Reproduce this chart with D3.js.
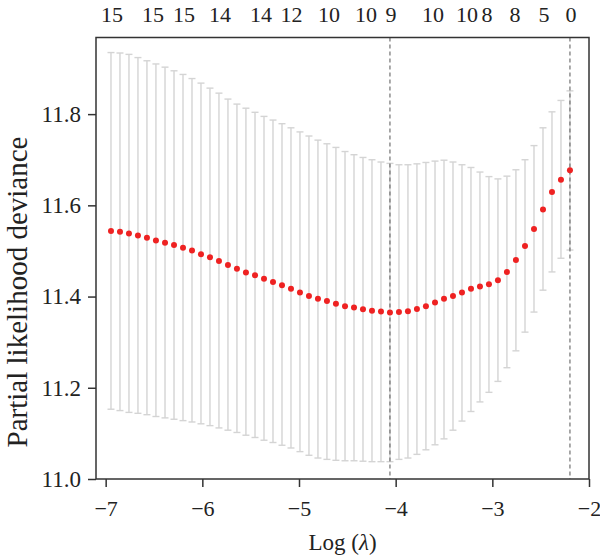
<!DOCTYPE html>
<html lang="en">
<head>
    <meta charset="UTF-8">
    <script src="https://d3js.org/d3.v7.min.js"></script>
    <title>CV partial likelihood deviance</title>
    <style>
        body { margin: 0; background: #fff; }
        text { font-family: "Liberation Serif", "Times New Roman", serif; fill: #222; }
    </style>
</head>
<body>
    <div id="chart"></div>
    <script>
// log(lambda) for each fitted lambda
const logLambda = [-6.945, -6.852, -6.759, -6.666, -6.573, -6.480, -6.386, -6.293, -6.200, -6.107,
    -6.014, -5.921, -5.828, -5.735, -5.642, -5.549, -5.455, -5.362, -5.269, -5.176,
    -5.083, -4.990, -4.897, -4.804, -4.711, -4.618, -4.524, -4.431, -4.338, -4.245,
    -4.152, -4.059, -3.966, -3.873, -3.780, -3.687, -3.593, -3.500, -3.407, -3.314,
    -3.221, -3.128, -3.035, -2.942, -2.849, -2.756, -2.662, -2.569, -2.476, -2.383,
    -2.290, -2.197];

// mean cross-validated deviance
const cvm = [11.544, 11.542, 11.538, 11.534, 11.529, 11.523, 11.518, 11.513, 11.507, 11.501,
    11.493, 11.486, 11.478, 11.469, 11.461, 11.453, 11.447, 11.439, 11.432, 11.425,
    11.417, 11.409, 11.401, 11.395, 11.390, 11.384, 11.379, 11.376, 11.372, 11.369,
    11.367, 11.365, 11.366, 11.368, 11.373, 11.379, 11.387, 11.395, 11.401, 11.409,
    11.417, 11.422, 11.427, 11.436, 11.454, 11.480, 11.511, 11.548, 11.591, 11.629,
    11.656, 11.677];

// upper and lower error bar ends
const cvup = [11.935, 11.934, 11.931, 11.924, 11.917, 11.910, 11.903, 11.895, 11.887, 11.878,
    11.868, 11.857, 11.846, 11.833, 11.822, 11.813, 11.804, 11.795, 11.787, 11.779,
    11.770, 11.761, 11.752, 11.743, 11.735, 11.727, 11.718, 11.711, 11.705, 11.700,
    11.695, 11.692, 11.689, 11.689, 11.691, 11.694, 11.697, 11.699, 11.695, 11.689,
    11.683, 11.673, 11.663, 11.658, 11.664, 11.678, 11.700, 11.731, 11.770, 11.805,
    11.830, 11.851];

const cvlo = [11.153, 11.150, 11.146, 11.144, 11.141, 11.137, 11.134, 11.131, 11.128, 11.125,
    11.121, 11.117, 11.112, 11.107, 11.102, 11.096, 11.091, 11.085, 11.080, 11.074,
    11.068, 11.060, 11.052, 11.046, 11.043, 11.041, 11.040, 11.040, 11.039, 11.038,
    11.038, 11.038, 11.043, 11.046, 11.054, 11.064, 11.075, 11.088, 11.107, 11.127,
    11.148, 11.169, 11.190, 11.214, 11.244, 11.281, 11.322, 11.366, 11.414, 11.454,
    11.484, 11.502];

// number of non-zero coefficients shown on top
const nzAt = [-6.934, -6.510, -6.190, -5.817, -5.393, -5.077, -4.690, -4.307, -4.048,
    -3.614, -3.262, -3.055, -2.766, -2.466, -2.187];
const nzLabels = ["15", "15", "15", "14", "14", "12", "10", "10", "9", "10", "10", "8", "8", "5", "0"];

// lambda.min and lambda.1se
const vlines = [-4.059, -2.197];

const xTicks = [-7, -6, -5, -4, -3, -2];
const yTicks = [11.0, 11.2, 11.4, 11.6, 11.8];

const W = 600, H = 558;
const plot = { left: 96, right: 589, top: 37.5, bottom: 479 };

const svg = d3.select("#chart").append("svg")
    .attr("width", W)
    .attr("height", H);

const x = d3.scaleLinear().domain([-7.1, -2.0]).range([plot.left, plot.right]);
const y = d3.scaleLinear().domain([11.0, 11.968]).range([plot.bottom, plot.top]);

const data = logLambda.map((l, i) => ({ l, m: cvm[i], up: cvup[i], lo: cvlo[i] }));

// error bars
const bars = svg.append("g").attr("stroke", "#d4d4d4").attr("stroke-width", 1.4);
bars.selectAll(".bar")
    .data(data)
    .enter().append("line")
    .attr("x1", d => x(d.l)).attr("x2", d => x(d.l))
    .attr("y1", d => y(d.up)).attr("y2", d => y(d.lo));
bars.selectAll(".capU")
    .data(data)
    .enter().append("line")
    .attr("x1", d => x(d.l) - 3.5).attr("x2", d => x(d.l) + 3.5)
    .attr("y1", d => y(d.up)).attr("y2", d => y(d.up));
bars.selectAll(".capL")
    .data(data)
    .enter().append("line")
    .attr("x1", d => x(d.l) - 3.5).attr("x2", d => x(d.l) + 3.5)
    .attr("y1", d => y(d.lo)).attr("y2", d => y(d.lo));

// dashed reference lines
svg.selectAll(".vline")
    .data(vlines)
    .enter().append("line")
    .attr("x1", d => x(d)).attr("x2", d => x(d))
    .attr("y1", plot.top).attr("y2", plot.bottom)
    .attr("stroke", "#555")
    .attr("stroke-width", 1)
    .attr("stroke-dasharray", "4,3");

// mean points
svg.selectAll(".pt")
    .data(data)
    .enter().append("circle")
    .attr("cx", d => x(d.l))
    .attr("cy", d => y(d.m))
    .attr("r", 3)
    .attr("fill", "#ee2222");

// frame
svg.append("rect")
    .attr("x", plot.left).attr("y", plot.top)
    .attr("width", plot.right - plot.left)
    .attr("height", plot.bottom - plot.top)
    .attr("fill", "none")
    .attr("stroke", "#333")
    .attr("stroke-width", 1.5);

// x axis
const gx = svg.append("g")
    .attr("transform", `translate(0,${plot.bottom})`)
    .call(d3.axisBottom(x).tickValues(xTicks).tickSize(8).tickPadding(13).tickFormat(d3.format("d")));
gx.select(".domain").remove();
gx.selectAll("line").attr("stroke", "#333").attr("stroke-width", 1.5);
gx.selectAll("text").attr("font-size", 22);

// y axis
const gy = svg.append("g")
    .attr("transform", `translate(${plot.left},0)`)
    .call(d3.axisLeft(y).tickValues(yTicks).tickSize(8).tickPadding(7).tickFormat(d3.format(".1f")));
gy.select(".domain").remove();
gy.selectAll("line").attr("stroke", "#333").attr("stroke-width", 1.5);
gy.selectAll("text").attr("font-size", 23);

// top labels
svg.selectAll(".nz")
    .data(nzAt)
    .enter().append("text")
    .attr("x", d => x(d))
    .attr("y", 22)
    .attr("text-anchor", "middle")
    .attr("font-size", 22)
    .text((d, i) => nzLabels[i]);

// axis titles
const xt = svg.append("text")
    .attr("x", (plot.left + plot.right) / 2)
    .attr("y", 550)
    .attr("text-anchor", "middle")
    .attr("font-size", 23);
xt.append("tspan").text("Log (");
xt.append("tspan").attr("font-style", "italic").text("λ");
xt.append("tspan").text(")");

svg.append("text")
    .attr("transform", "translate(27,292) rotate(-90)")
    .attr("text-anchor", "middle")
    .attr("font-size", 29)
    .text("Partial likelihood deviance");
    </script>
</body>
</html>
